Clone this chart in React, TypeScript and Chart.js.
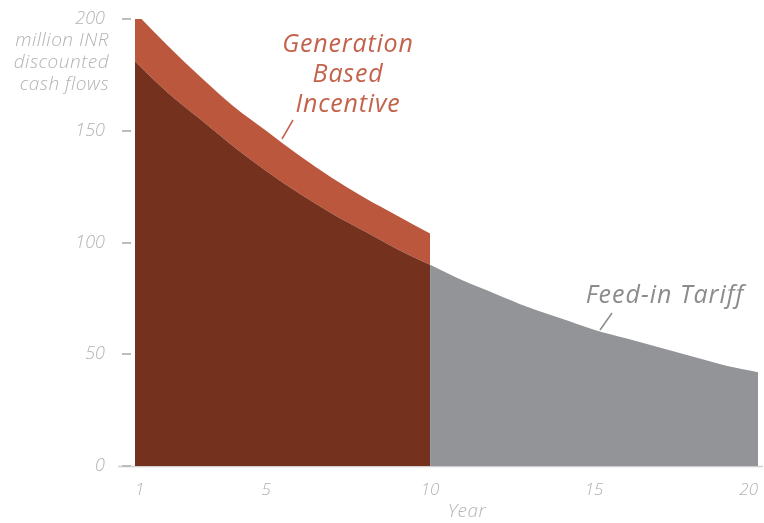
import React, { useEffect, useRef } from "react";
import { Chart, registerables } from "chart.js";

Chart.register(...registerables);

const gbiYears = [1, 2, 3, 4, 5, 6, 7, 8, 9, 10];
const gbiFitBase = [181, 167, 155, 143, 132, 122, 113, 105, 97, 90];
const gbiTop = [203, 188, 174, 161, 150, 139, 129, 120, 112, 104];
const fitYears = [10, 11, 12, 13, 14, 15, 16, 17, 18, 19, 20];
const fitValues = [90, 83, 77, 71, 66, 61, 57, 53, 49, 45, 42];
const xTicks = [1, 5, 10, 15, 20];
const yTicks = [0, 50, 100, 150, 200];
const yTitleLines = ["million INR", "discounted", "cash flows"];
const gbiLabelLines = ["Generation", "Based", "Incentive"];
const fitLabel = "Feed-in Tariff";
const xTitle = "Year";

const FONT = "'Open Sans', 'Lato', sans-serif";
const AXIS_GREY = "#b3b3b3";

const overlayPlugin = {
  id: "overlay",
  beforeDatasetsDraw(chart: any) {
    const { ctx, chartArea, scales } = chart;
    ctx.save();
    ctx.strokeStyle = "#cfcfcf";
    ctx.lineWidth = 1.5;
    ctx.beginPath();
    ctx.moveTo(118, chartArea.bottom + 0.5);
    ctx.lineTo(763, chartArea.bottom + 0.5);
    ctx.stroke();
    // y tick marks
    ctx.strokeStyle = "#bdbdbd";
    ctx.lineWidth = 2;
    yTicks.forEach((v) => {
      const y = Math.round(scales.y.getPixelForValue(v));
      ctx.beginPath();
      ctx.moveTo(chartArea.left - 13, y);
      ctx.lineTo(chartArea.left - 4, y);
      ctx.stroke();
    });
    ctx.restore();
  },
  afterDraw(chart: any) {
    const { ctx } = chart;
    ctx.save();
    ctx.textBaseline = "middle";
    (ctx as any).letterSpacing = "0.5px";
    // y title
    ctx.font = `italic 300 19px ${FONT}`;
    ctx.fillStyle = AXIS_GREY;
    ctx.textAlign = "right";
    const ys = [41, 63, 85];
    yTitleLines.forEach((t, i) => ctx.fillText(t, 109, ys[i]));
    // x title
    ctx.textAlign = "center";
    ctx.font = `italic 300 19px ${FONT}`;
    ctx.fillText(xTitle, 467, 512);
    // GBI label
    (ctx as any).letterSpacing = "0.8px";
    ctx.font = `italic 400 25px ${FONT}`;
    ctx.fillStyle = "#c4634c";
    const gy = [45, 75, 105];
    gbiLabelLines.forEach((t, i) => ctx.fillText(t, 348, gy[i]));
    ctx.strokeStyle = "#c4634c";
    ctx.lineWidth = 1.5;
    ctx.beginPath();
    ctx.moveTo(293, 120);
    ctx.lineTo(282, 139);
    ctx.stroke();
    // FiT label
    (ctx as any).letterSpacing = "1px";
    ctx.font = `italic 400 25px ${FONT}`;
    ctx.fillStyle = "#8c8c8c";
    ctx.fillText(fitLabel, 665, 296);
    ctx.strokeStyle = "#8c8c8c";
    ctx.beginPath();
    ctx.moveTo(612, 313);
    ctx.lineTo(600, 330);
    ctx.stroke();
    ctx.restore();
  },
};

export default function App() {
  const ref = useRef<HTMLCanvasElement | null>(null);
  useEffect(() => {
    document.body.style.margin = "0";
    const canvas = ref.current;
    if (!canvas) return;
    const chart = new Chart(canvas, {
      type: "line",
      data: {
        datasets: [
          {
            label: "FiT (years 1-10)",
            data: gbiYears.map((x, i) => ({ x, y: gbiFitBase[i] })),
            backgroundColor: "#73311e",
            borderWidth: 0,
            pointRadius: 0,
            fill: "origin",
            cubicInterpolationMode: "monotone",
          },
          {
            label: "Generation Based Incentive",
            data: gbiYears.map((x, i) => ({ x, y: gbiTop[i] })),
            backgroundColor: "#bb573c",
            borderWidth: 0,
            pointRadius: 0,
            fill: "-1",
            cubicInterpolationMode: "monotone",
          },
          {
            label: "Feed-in Tariff",
            data: fitYears.map((x, i) => ({ x, y: fitValues[i] })),
            backgroundColor: "#929497",
            borderWidth: 0,
            pointRadius: 0,
            fill: "origin",
            cubicInterpolationMode: "monotone",
          },
        ],
      },
      options: {
        animation: false,
        responsive: false,
        layout: { padding: { left: 0, right: 6, top: 19, bottom: 0 } },
        plugins: { legend: { display: false }, tooltip: { enabled: false } },
        scales: {
          x: {
            type: "linear",
            min: 1,
            max: 20,
            afterBuildTicks(scale: any) {
              scale.ticks = xTicks.map((v) => ({ value: v }));
            },
            afterFit(scale: any) {
              scale.height = 57;
              scale.paddingLeft = 0;
              scale.paddingRight = 0;
            },
            grid: { display: false },
            border: { display: false },
            ticks: {
              align: "inner",
              padding: 6,
              maxRotation: 0,
              autoSkip: false,
              color: AXIS_GREY,
              font: { family: FONT, size: 17, style: "italic", weight: 300 as any },
            },
          },
          y: {
            min: 0,
            max: 200,
            afterBuildTicks(scale: any) {
              scale.ticks = yTicks.map((v) => ({ value: v }));
            },
            afterFit(scale: any) {
              scale.width = 135;
              scale.paddingTop = 0;
              scale.paddingBottom = 0;
            },
            grid: { display: false },
            border: { display: false },
            ticks: {
              padding: 22,
              color: AXIS_GREY,
              font: { family: FONT, size: 18, style: "italic", weight: 300 as any },
            },
          },
        },
      },
      plugins: [overlayPlugin],
    });
    return () => chart.destroy();
  }, []);
  return (
    <div style={{ width: 764, height: 523 }}>
      <canvas ref={ref} width={764} height={523} />
    </div>
  );
}
